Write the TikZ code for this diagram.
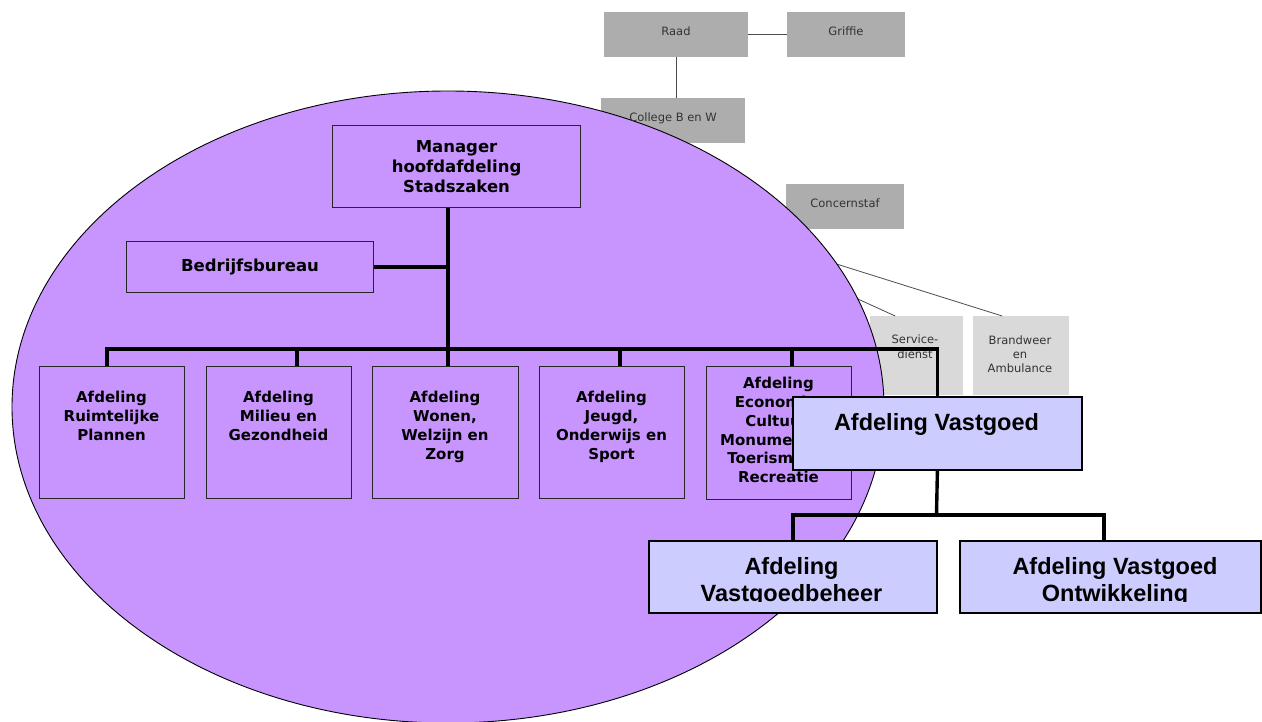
\documentclass[tikz,border=0pt]{standalone}
\usepackage{fontspec}
\newfontfamily\dvs{DejaVu Sans}
\newfontfamily\lib{Liberation Sans}
\usetikzlibrary{calc}
\definecolor{purp}{RGB}{200,149,255}
\definecolor{vgblue}{RGB}{204,204,255}
\definecolor{dgray}{RGB}{173,173,173}
\definecolor{lgray}{RGB}{217,217,217}
\definecolor{txtgray}{RGB}{51,51,51}
\begin{document}
\begin{tikzpicture}[x=1pt,y=-1pt,
  gbox/.style={fill=dgray, inner sep=0pt, anchor=north west},
  lbox/.style={fill=lgray, inner sep=0pt, anchor=north west},
  gtext/.style={font=\dvs\fontsize{11.5}{14}\selectfont, text=txtgray, align=center, inner sep=0pt, anchor=base},
  thinline/.style={draw=black!70, line width=0.8pt},
  pbox/.style={draw=black!85, line width=1.1pt, fill=purp, inner sep=0pt, anchor=north west},
  bigtext/.style={font=\dvs\bfseries\fontsize{16.5}{20.3}\selectfont, align=center},
  ptext/.style={font=\dvs\bfseries\fontsize{15}{18.9}\selectfont, align=center, inner sep=0pt, anchor=base},
  bus/.style={line width=3.6pt, line join=miter},
  vline/.style={line width=3.4pt, line join=miter},
  vbox/.style={draw=black, line width=1.8pt, fill=vgblue, inner sep=0pt, anchor=north west},
  vtext/.style={font=\lib\bfseries\fontsize{23.5}{27}\selectfont, align=center, inner sep=0pt, anchor=base}
]
\useasboundingbox (0,0) rectangle (1262,722);
\clip (0,0) rectangle (1262,722);

% grey boxes (fills)
\node[gbox, minimum width=144pt, minimum height=45pt] (raad) at (604,12) {};
\node[gbox, minimum width=118pt, minimum height=45pt] (griffie) at (787,12) {};
\node[gbox, minimum width=144pt, minimum height=45pt] (college) at (601,98) {};
\node[gbox, minimum width=118pt, minimum height=45pt] (concern) at (786,184) {};
\node[lbox, minimum width=93pt, minimum height=79pt] (service) at (870,316) {};
\node[lbox, minimum width=96pt, minimum height=79pt] (brand) at (973,316) {};

\draw[thinline] (raad.east) -- (griffie.west);
\draw[thinline] (raad.south) -- (raad.south |- college.north);
\coordinate (hub) at (658,208);
\draw[thinline] (hub) -- ([xshift=-21.5pt]service.north);
\draw[thinline] (hub) -- ([xshift=-19pt]brand.north);

% ellipse
\draw[fill=purp, line width=0.9pt] (448,407) ellipse [x radius=436pt, y radius=316pt];

% grey box texts (anchor = baseline of last line)
\node[gtext] (raadt) at (676,36) {Raad};
\node[gtext] (griffiet) at (846,36) {Griffie};
\node[gtext] (colleget) at (673,122) {College B en W};
\node[gtext] (concernt) at (845,208) {Concernstaf};
\node[gtext] (servicet) at (915,358) {Service-\\dienst};
\node[gtext] (brandt) at (1020,372) {Brandweer\\en\\Ambulance};

% purple boxes
\node[pbox, bigtext, minimum width=248pt, minimum height=82pt] (mgr) at (332,125) {Manager\\hoofdafdeling\\Stadszaken};
\node[pbox, bigtext, minimum width=247pt, minimum height=51pt] (bb) at (126,241) {Bedrijfsbureau};
\node[pbox, minimum width=145pt, minimum height=132pt] (d1) at (39,366) {};
\node[pbox, minimum width=145pt, minimum height=132pt] (d2) at (206,366) {};
\node[pbox, minimum width=146pt, minimum height=132pt] (d3) at (372,366) {};
\node[pbox, minimum width=145pt, minimum height=132pt] (d4) at (539,366) {};
\node[pbox, minimum width=145pt, minimum height=133pt] (d5) at (706,366) {};

\node[ptext] (d1t) at (111.5,440.1) {Afdeling\\Ruimtelijke\\Plannen};
\node[ptext] (d2t) at (278.5,440.1) {Afdeling\\Milieu en\\Gezondheid};
\node[ptext] (d3t) at (445,459) {Afdeling\\Wonen,\\Welzijn en\\Zorg};
\node[ptext] (d4t) at (611.5,459) {Afdeling\\Jeugd,\\Onderwijs en\\Sport};
\node[ptext] (d5t) at (778.5,482.8) {Afdeling\\Economie,\\Cultuur,\\Monumenten,\\Toerisme en\\Recreatie};

% connectors
\coordinate (b1) at (107,349);
\coordinate (b2) at (297,349);
\coordinate (tk) at (448,349);
\coordinate (b4) at (620,349);
\coordinate (b5) at (792,349);
\draw[bus] (d1.north -| b1) -- (b1) -- (b5) -- (d5.north -| b5);
\draw[bus] (b2) -- (d2.north -| b2);
\draw[bus] (b4) -- (d4.north -| b4);
\draw[bus] (mgr.south -| tk) -- (d3.north -| tk);
\draw[bus] (bb.east) -- (bb.east -| tk);

% Vastgoed
\node[vbox, minimum width=289pt, minimum height=73pt] (vg) at (792,396) {};
\node[vtext] (vgt) at (936.5,430) {Afdeling Vastgoed};
\draw[vline] (b5) -- (vg.north |- b5) -- (vg.north);

\node[vbox, minimum width=288pt, minimum height=72pt] (vb) at (648,540) {};
\node[vbox, minimum width=301pt, minimum height=72pt] (vo) at (959,540) {};
\begin{scope}
\clip (648,540) rectangle (1262,601.5);
\node[vtext] (vbt) at (791.5,601) {Afdeling\\Vastgoedbeheer};
\node[vtext] (vot) at (1115,601) {Afdeling Vastgoed\\Ontwikkeling};
\end{scope}
\coordinate (vj) at (936.5,515);
\coordinate (vodrop) at (1104,515);
\draw[vline] (vg.south) -- (vj);
\draw[vline] (vb.north) -- (vb.north |- vj) -- (vodrop) -- (vodrop |- vo.north);
\end{tikzpicture}
\end{document}
